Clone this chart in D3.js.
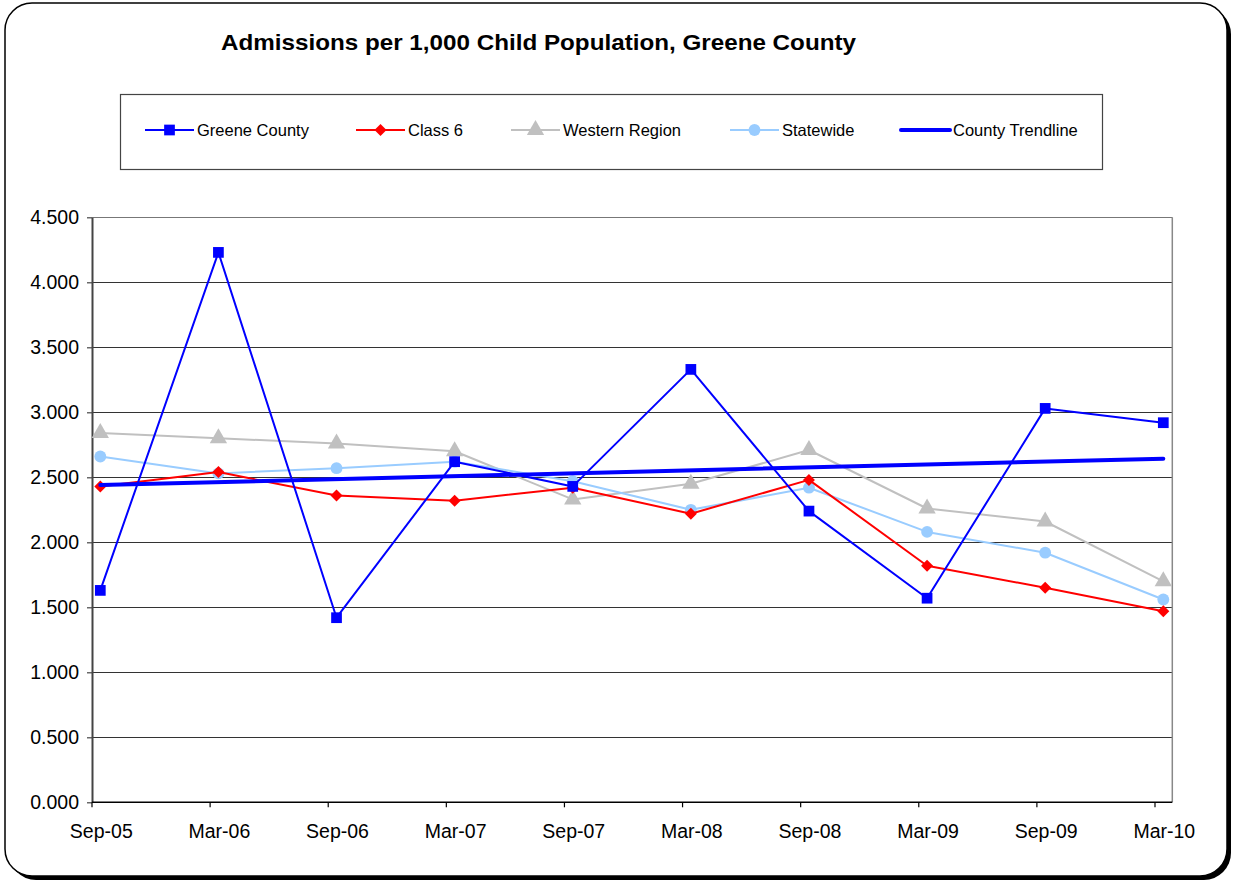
<!DOCTYPE html>
<html>
<head>
<meta charset="utf-8">
<script src="https://cdn.jsdelivr.net/npm/d3@7"></script>
<style>
  html, body { margin: 0; padding: 0; background: #fff; }
  svg { display: block; font-family: "Liberation Sans", Arial, sans-serif; }
</style>
</head>
<body>
<svg id="chart" width="1233" height="884"></svg>
<script>
// Half-year reporting periods
const categories = ["Sep-05", "Mar-06", "Sep-06", "Mar-07", "Sep-07", "Mar-08", "Sep-08", "Mar-09", "Sep-09", "Mar-10"];

// Admissions per 1,000 child population
const greeneCounty = [1.63, 4.23, 1.42, 2.62, 2.43, 3.33, 2.24, 1.57, 3.03, 2.92];
const class6       = [2.43, 2.54, 2.36, 2.32, 2.42, 2.22, 2.48, 1.82, 1.65, 1.47];
const westernRegion = [2.84, 2.80, 2.76, 2.70, 2.33, 2.45, 2.71, 2.26, 2.16, 1.70];
const statewide    = [2.66, 2.53, 2.57, 2.62, 2.47, 2.25, 2.42, 2.08, 1.92, 1.56];

const yTicks = [0, 0.5, 1, 1.5, 2, 2.5, 3, 3.5, 4, 4.5];

const svg = d3.select("#chart");

// Card frame with drop shadow
svg.append("rect")
  .attr("x", 9).attr("y", 7).attr("width", 1222).attr("height", 873)
  .attr("rx", 27).attr("ry", 27).attr("fill", "#000");
svg.append("rect")
  .attr("x", 5).attr("y", 3).attr("width", 1222).attr("height", 873)
  .attr("rx", 27).attr("ry", 27).attr("fill", "#fff")
  .attr("stroke", "#000").attr("stroke-width", 1.5);

// Title
svg.append("text")
  .attr("x", 538.5).attr("y", 50)
  .attr("text-anchor", "middle")
  .attr("font-size", 22).attr("font-weight", "bold")
  .attr("textLength", 635).attr("lengthAdjust", "spacingAndGlyphs")
  .attr("fill", "#000")
  .text("Admissions per 1,000 Child Population, Greene County");

// Plot area
const plot = { left: 92, right: 1172.3, top: 217.3, bottom: 802.3 };

// Points sit slightly right of the period tick marks
const x = d3.scaleLinear()
  .domain([-0.0703, 9.0762])
  .range([plot.left, plot.right]);
const y = d3.scaleLinear()
  .domain([0, 4.5])
  .range([plot.bottom, plot.top]);

const g = svg.append("g");

// Horizontal gridlines
g.selectAll("line.grid")
  .data(yTicks.filter(t => t > 0))
  .join("line")
  .attr("class", "grid")
  .attr("x1", plot.left).attr("x2", plot.right)
  .attr("y1", d => Math.round(y(d)) + 0.5).attr("y2", d => Math.round(y(d)) + 0.5)
  .attr("stroke", d => d === 4.5 ? "#777" : "#333").attr("stroke-width", 1.2);

// Right border of the plot area
g.append("line")
  .attr("x1", plot.right).attr("x2", plot.right)
  .attr("y1", plot.top).attr("y2", plot.bottom)
  .attr("stroke", "#888").attr("stroke-width", 1.5);

// Y axis
const yAxis = d3.axisLeft(y)
  .tickValues(yTicks)
  .tickFormat(d3.format(".3f"))
  .tickSizeInner(5).tickSizeOuter(0).tickPadding(8);
const yg = g.append("g")
  .attr("transform", `translate(${plot.left},0)`)
  .call(yAxis);
yg.select(".domain").attr("stroke", "#444").attr("stroke-width", 2);
yg.selectAll(".tick line").attr("stroke", "#444").attr("stroke-width", 1.2);
yg.selectAll(".tick text")
  .attr("font-size", 19.5).attr("fill", "#000")
  .attr("font-family", "Liberation Sans, Arial, sans-serif");

// X axis: ticks at period boundaries, labels under each point
const tickPos = categories.map((c, i) => i - 0.0703);
const xg = g.append("g").attr("transform", `translate(0,${plot.bottom})`);
xg.append("line")
  .attr("x1", plot.left).attr("x2", plot.right)
  .attr("y1", 0).attr("y2", 0)
  .attr("stroke", "#000").attr("stroke-width", 1.5);
xg.selectAll("line.tick")
  .data(tickPos)
  .join("line")
  .attr("class", "tick")
  .attr("x1", d => x(d)).attr("x2", d => x(d))
  .attr("y1", 0).attr("y2", 5)
  .attr("stroke", "#000").attr("stroke-width", 1.2);
xg.selectAll("text")
  .data(categories)
  .join("text")
  .attr("x", (d, i) => x(i) + 1)
  .attr("y", 36)
  .attr("text-anchor", "middle")
  .attr("font-size", 19.5).attr("fill", "#000")
  .text(d => d);

// Least-squares trendline of the county series
const n = greeneCounty.length;
const meanX = d3.mean(greeneCounty, (d, i) => i);
const meanY = d3.mean(greeneCounty);
const slope = d3.sum(greeneCounty, (d, i) => (i - meanX) * (d - meanY)) /
              d3.sum(greeneCounty, (d, i) => (i - meanX) * (i - meanX));
const intercept = meanY - slope * meanX;
const trendline = [0, n - 1].map(i => [i, intercept + slope * i]);

const line = d3.line().x(d => x(d[0])).y(d => y(d[1]));
const toPts = arr => arr.map((v, i) => [i, v]);

// Diamond markers are squares turned 45 degrees
const series = [
  { name: "Western Region", values: westernRegion, color: "#C0C0C0", symbol: d3.symbolTriangle, size: 130, rot: 0 },
  { name: "Statewide", values: statewide, color: "#99CCFF", symbol: d3.symbolCircle, size: 110, rot: 0 },
  { name: "Class 6", values: class6, color: "#FF0000", symbol: d3.symbolSquare, size: 72, rot: 45 },
  { name: "Greene County", values: greeneCounty, color: "#0000FF", symbol: d3.symbolSquare, size: 115, rot: 0 }
];

series.forEach(s => {
  g.append("path")
    .attr("d", line(toPts(s.values)))
    .attr("fill", "none").attr("stroke", s.color).attr("stroke-width", 2)
    .attr("stroke-linejoin", "round");
  g.selectAll(null)
    .data(toPts(s.values))
    .join("path")
    .attr("transform", d => `translate(${x(d[0])},${y(d[1])}) rotate(${s.rot})`)
    .attr("d", d3.symbol().type(s.symbol).size(s.size))
    .attr("fill", s.color);
});

g.append("path")
  .attr("d", line(trendline))
  .attr("fill", "none").attr("stroke", "#0000FF").attr("stroke-width", 4)
  .attr("stroke-linecap", "round");

// Legend
const legend = svg.append("g");
legend.append("rect")
  .attr("x", 120.5).attr("y", 94.5).attr("width", 982).attr("height", 75)
  .attr("fill", "#fff").attr("stroke", "#444").attr("stroke-width", 1.2);

const legendItems = [
  { name: "Greene County", color: "#0000FF", symbol: d3.symbolSquare, size: 115, rot: 0, x0: 145, width: 2 },
  { name: "Class 6", color: "#FF0000", symbol: d3.symbolSquare, size: 72, rot: 45, x0: 356, width: 2 },
  { name: "Western Region", color: "#C0C0C0", symbol: d3.symbolTriangle, size: 130, rot: 0, x0: 511, width: 2 },
  { name: "Statewide", color: "#99CCFF", symbol: d3.symbolCircle, size: 110, rot: 0, x0: 730, width: 2 },
  { name: "County Trendline", color: "#0000FF", symbol: null, size: 0, rot: 0, x0: 901, width: 4 }
];
const ly = 130;
legendItems.forEach(it => {
  legend.append("line")
    .attr("x1", it.x0).attr("x2", it.x0 + 49)
    .attr("y1", ly).attr("y2", ly)
    .attr("stroke", it.color).attr("stroke-width", it.width)
    .attr("stroke-linecap", it.symbol ? "butt" : "round");
  if (it.symbol) {
    legend.append("path")
      .attr("transform", `translate(${it.x0 + 24.5},${ly}) rotate(${it.rot})`)
      .attr("d", d3.symbol().type(it.symbol).size(it.size))
      .attr("fill", it.color);
  }
  legend.append("text")
    .attr("x", it.x0 + 52).attr("y", ly + 6)
    .attr("font-size", 16.5).attr("fill", "#000")
    .text(it.name);
});
</script>
</body>
</html>
